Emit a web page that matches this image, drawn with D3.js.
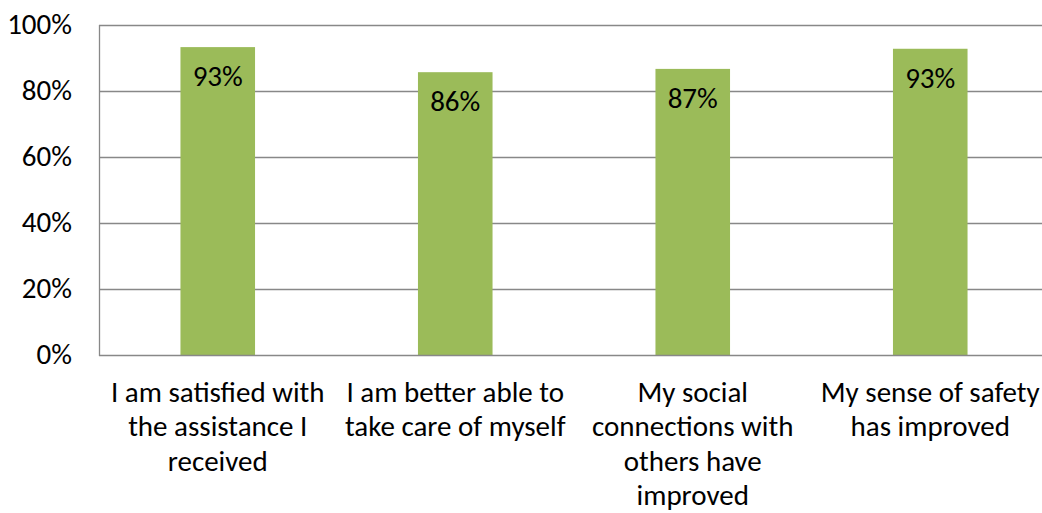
<!DOCTYPE HTML>
<html>
  <head>
    <style>
      body { margin: 0px; background: #fff; }
      text { font-family: Carlito, Calibri, Lato, "Open Sans", sans-serif; fill: #000; }
    </style>
  </head>
  <body>
    <script src="https://cdn.jsdelivr.net/npm/d3@7"></script>
    <script>

      // *** DATA ***
      var categories = [
        "I am satisfied with|the assistance I|received",
        "I am better able to|take care of myself",
        "My social|connections with|others have|improved",
        "My sense of safety|has improved"
      ];
      var values = [0.933, 0.857, 0.867, 0.928];
      var valueLabels = ["93%", "86%", "87%", "93%"];
      var yTicks = [0, 0.2, 0.4, 0.6, 0.8, 1.0];

      // *** LAYOUT ***
      var W = 1042, H = 513;
      var plotL = 99, plotR = 1049, plotT = 25, plotB = 355;
      var fontSize = "29px";

      var svg = d3.select("body").append("svg")
        .attr("width", W)
        .attr("height", H);

      var x = d3.scaleBand()
        .domain(d3.range(categories.length))
        .range([plotL, plotR])
        .paddingInner(0.686)
        .paddingOuter(0.343);

      var y = d3.scaleLinear()
        .domain([0, 1])
        .range([plotB, plotT]);

      // gridlines
      svg.selectAll("line.grid").data(yTicks.filter(function(d){ return d > 0; }))
        .enter().append("line")
          .attr("class", "grid")
          .attr("x1", plotL).attr("x2", plotR)
          .attr("y1", function(d){ return Math.round(y(d)) + 0.5; })
          .attr("y2", function(d){ return Math.round(y(d)) + 0.5; })
          .style("stroke", "#888")
          .style("stroke-width", 1.3);

      // y tick labels
      svg.selectAll("text.ytick").data(yTicks)
        .enter().append("text")
          .attr("class", "ytick")
          .attr("x", 72)
          .attr("y", function(d){ return y(d) + 8.5; })
          .style("text-anchor", "end")
          .style("font-size", fontSize)
          .text(function(d){ return d3.format(".0%")(d); });

      // bars
      svg.selectAll("rect.bar").data(values)
        .enter().append("rect")
          .attr("class", "bar")
          .attr("x", function(d, i){ return x(i); })
          .attr("y", function(d){ return y(d); })
          .attr("width", x.bandwidth())
          .attr("height", function(d){ return plotB - y(d); })
          .style("fill", "#9BBB59");

      // bar labels
      svg.selectAll("text.vlabel").data(values)
        .enter().append("text")
          .attr("class", "vlabel")
          .attr("x", function(d, i){ return x(i) + x.bandwidth()/2; })
          .attr("y", function(d){ return y(d) + 39; })
          .style("text-anchor", "middle")
          .style("font-size", fontSize)
          .text(function(d, i){ return valueLabels[i]; });

      // axes lines
      svg.append("line")
        .attr("x1", plotL + 0.5).attr("x2", plotL + 0.5)
        .attr("y1", plotT).attr("y2", plotB + 1)
        .style("stroke", "#888").style("stroke-width", 1.3);
      svg.append("line")
        .attr("x1", plotL).attr("x2", plotR)
        .attr("y1", plotB + 0.5).attr("y2", plotB + 0.5)
        .style("stroke", "#888").style("stroke-width", 1.3);

      // category labels
      var cat = svg.selectAll("text.cat").data(categories)
        .enter().append("text")
          .attr("class", "cat")
          .style("text-anchor", "middle")
          .style("font-size", fontSize);
      cat.each(function(d, i){
        var t = d3.select(this);
        d.split("|").forEach(function(line, j){
          t.append("tspan")
            .attr("x", x(i) + x.bandwidth()/2)
            .attr("y", 401.5 + j * 34.5)
            .text(line);
        });
      });

    </script>
  </body>
</html>
